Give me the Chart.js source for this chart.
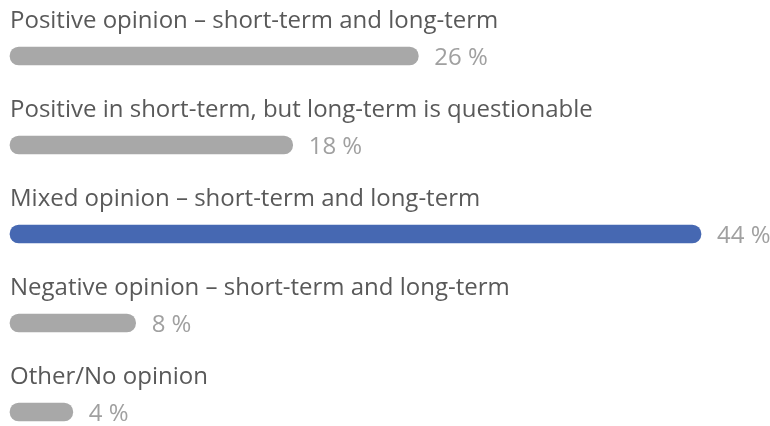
<!DOCTYPE html>
<html>
<head>
<meta charset="utf-8">
<script src="https://cdn.jsdelivr.net/npm/chart.js@4"></script>
<style>
  html, body { margin: 0; padding: 0; background: #fff; }
  #wrap { width: 770px; height: 426px; position: relative; }
</style>
</head>
<body>
<div id="wrap"><canvas id="opinionChart"></canvas></div>
<script>
const categories = [
    'Positive opinion – short-term and long-term',
    'Positive in short-term, but long-term is questionable',
    'Mixed opinion – short-term and long-term',
    'Negative opinion – short-term and long-term',
    'Other/No opinion'
];
const shares = [26, 18, 44, 8, 4];
const barColors = ['#a8a8a8', '#a8a8a8', '#4668b2', '#a8a8a8', '#a8a8a8'];

const FONT = '"Open Sans", "Noto Sans", sans-serif';

// draws the category text above each bar and the percentage after it
const rowLabels = {
    id: 'rowLabels',
    afterDatasetsDraw(chart) {
        const ctx = chart.ctx;
        const meta = chart.getDatasetMeta(0);
        ctx.save();
        ctx.textBaseline = 'alphabetic';
        meta.data.forEach((bar, i) => {
            ctx.font = '24px ' + FONT;
            ctx.fillStyle = '#595959';
            ctx.textAlign = 'left';
            ctx.fillText(categories[i], chart.chartArea.left, bar.y - 28);

            ctx.fillStyle = '#a0a0a0';
            ctx.fillText(shares[i] + ' %', bar.x + 16, bar.y + 9);
        });
        ctx.restore();
    }
};

new Chart(document.getElementById('opinionChart'), {
    type: 'bar',
    data: {
        labels: categories,
        datasets: [{
            data: shares,
            backgroundColor: barColors,
            barThickness: 18,
            borderRadius: 9,
            borderSkipped: false,
            clip: false
        }]
    },
    options: {
        indexAxis: 'y',
        responsive: true,
        maintainAspectRatio: false,
        animation: false,
        layout: { padding: { top: 56, bottom: 14, left: 10, right: 69 } },
        plugins: {
            legend: { display: false },
            tooltip: { enabled: false }
        },
        scales: {
            x: { display: false, min: 0, max: 44 },
            y: { display: false, offset: false }
        }
    },
    plugins: [rowLabels]
});
</script>
</body>
</html>
